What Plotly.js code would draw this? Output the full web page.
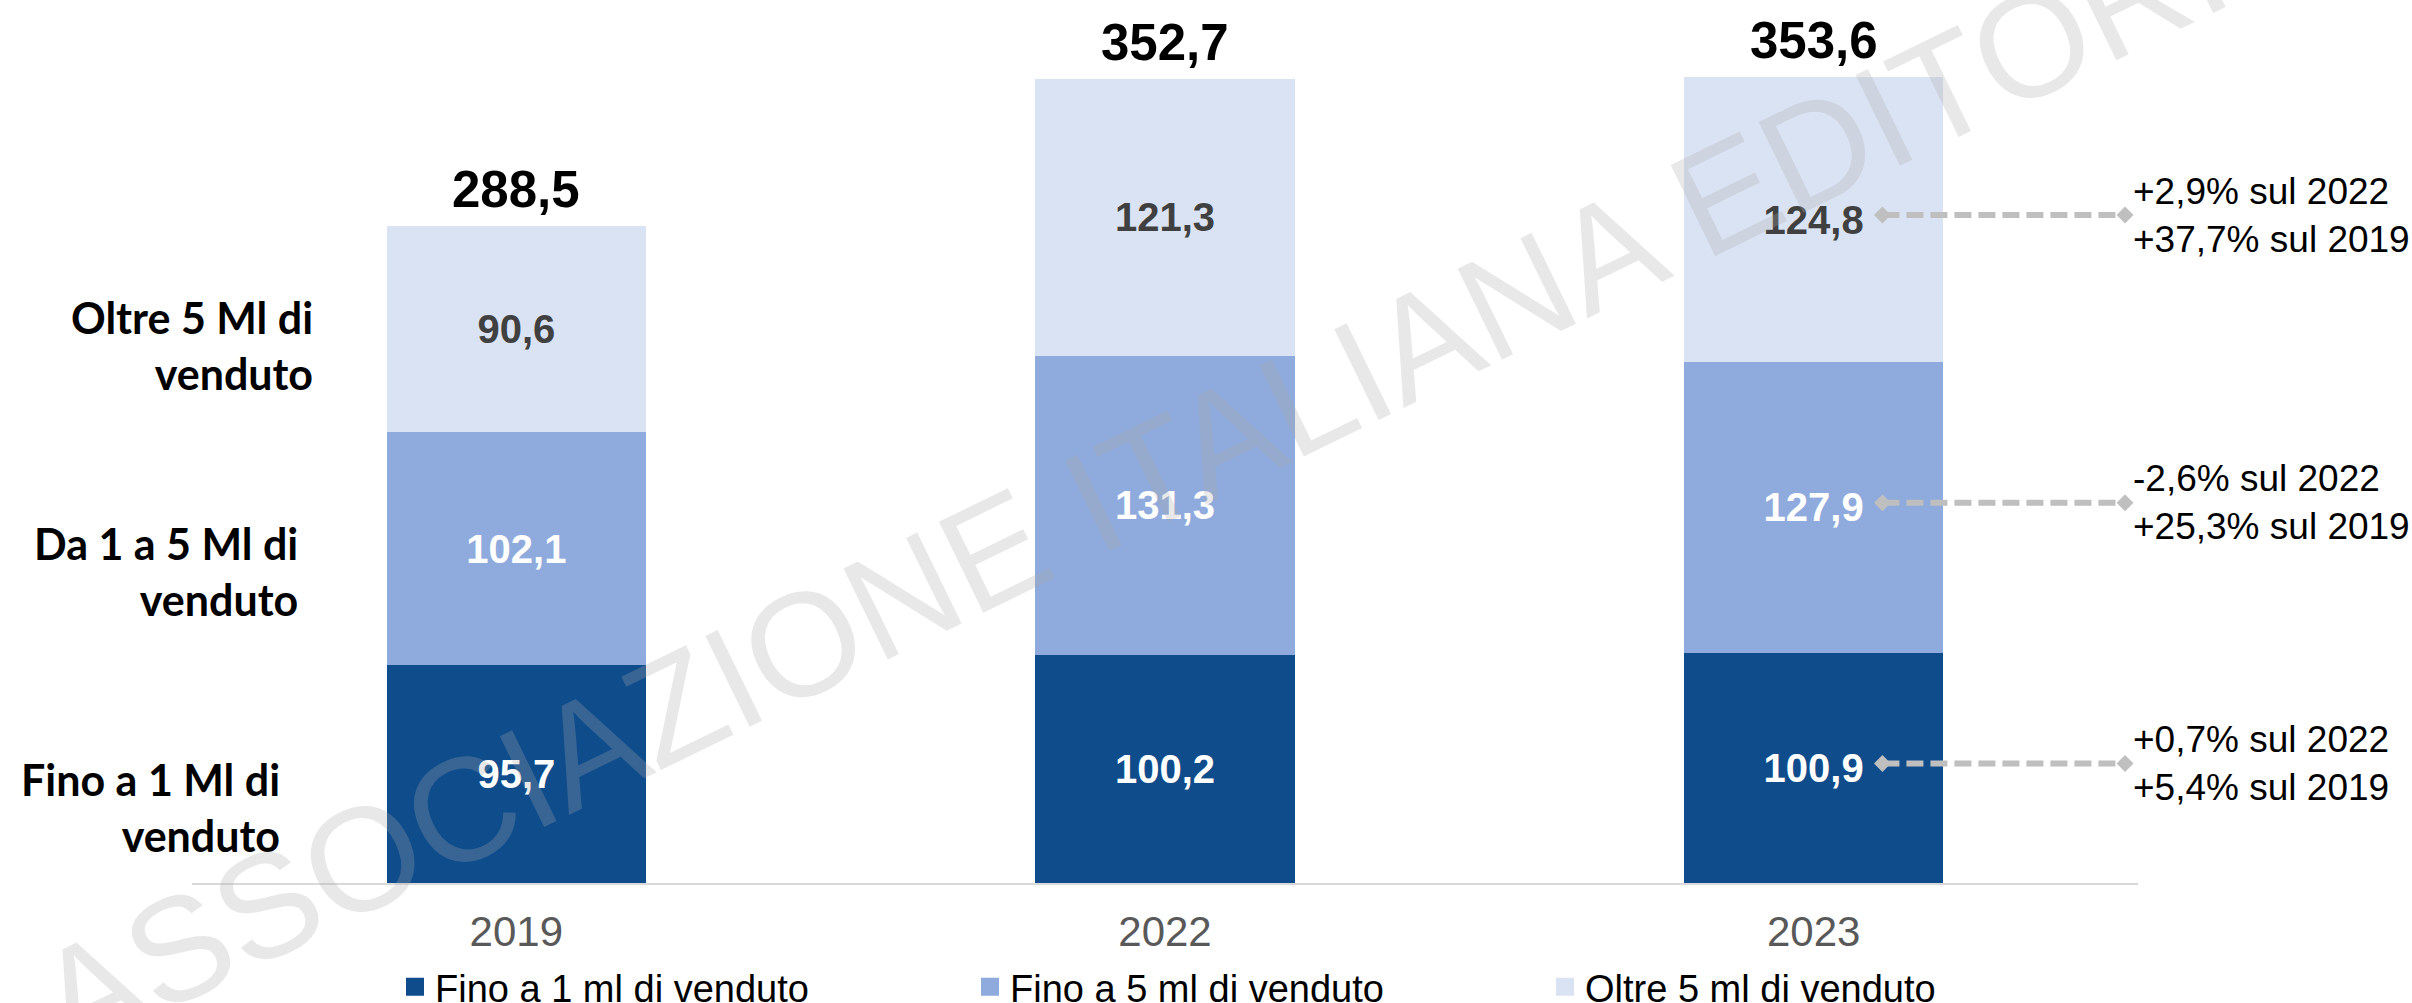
<!DOCTYPE html>
<html><head><meta charset="utf-8">
<script src="https://cdn.plot.ly/plotly-3.0.1.min.js"></script>
<style>html,body{margin:0;padding:0;background:#fff;overflow:hidden}</style>
</head><body><div id="chart" style="width:2412px;height:1003px"></div>
<script>
// ---- data ----
const years = ['2019', '2022', '2023'];
const seriesNames = ['Fino a 1 ml di venduto', 'Fino a 5 ml di venduto', 'Oltre 5 ml di venduto'];
const upTo1 = [95.7, 100.2, 100.9];
const from1to5 = [102.1, 131.3, 127.9];
const over5 = [90.6, 121.3, 124.8];
const totals = [288.5, 352.7, 353.6];
const rowLabels = ['Fino a 1 Ml di<br>venduto', 'Da 1 a 5 Ml di<br>venduto', 'Oltre 5 Ml di<br>venduto'];
// changes of the 2023 value, in order: fino a 1, da 1 a 5, oltre 5
const change2022 = [0.7, -2.6, 2.9];
const change2019 = [5.4, 25.3, 37.7];

// ---- helpers ----
const FONT = 'Liberation Sans, Arial, sans-serif';
const fmt = v => v.toFixed(1).replace('.', ',');
const fmtPct = v => (v >= 0 ? '+' : '-') + Math.abs(v).toFixed(1).replace('.', ',') + '%';
const xs = years.map((_, i) => i);
const series = [upTo1, from1to5, over5];
const colors = ['#0e4c8c', '#8faadc', '#dae3f3'];
const textColors = ['#ffffff', '#ffffff', '#404040'];

const traces = series.map((vals, k) => ({
  type: 'bar', x: xs, y: vals, name: seriesNames[k], width: 0.4,
  marker: {color: colors[k], line: {width: 0}},
  texttemplate: '%{y:.1f}', textposition: 'inside', insidetextanchor: 'middle',
  textangle: 0, constraintext: 'none',
  textfont: {family: FONT, size: 40, color: textColors[k], weight: 'bold'},
  hoverinfo: 'skip'
}));

// arrows on the last bar, one per segment
const last = years.length - 1;
const annotations = [];
let base = 0;
series.forEach((vals, k) => {
  const v = vals[last];
  const yMid = base + v / 2 + 2;
  traces.push({
    type: 'scatter', mode: 'lines+markers', showlegend: false, hoverinfo: 'skip',
    x: [last + 0.106, last + 0.48], y: [yMid, yMid], cliponaxis: false,
    line: {color: '#bfbfbf', width: 6, dash: '17px,7px'},
    marker: {symbol: 'diamond', size: 13, color: '#bfbfbf'}
  });
  annotations.push({
    x: last + 0.48, y: yMid, xref: 'x', yref: 'y', xanchor: 'left', yanchor: 'middle',
    xshift: 6, showarrow: false, align: 'left',
    text: fmtPct(change2022[k]) + ' sul 2022<br>' + fmtPct(change2019[k]) + ' sul 2019',
    font: {family: FONT, size: 37, color: '#000000'}
  });
  base += v;
});

// totals above bars
totals.forEach((t, i) => {
  const top = upTo1[i] + from1to5[i] + over5[i];
  annotations.push({
    x: i, y: top, xref: 'x', yref: 'y', xanchor: 'center', yanchor: 'bottom',
    yshift: 6, showarrow: false, text: fmt(t),
    font: {family: FONT, size: 51, color: '#000000', weight: 'bold'}
  });
});

// row labels on the left (paper positions)
const rowPos = [[282, 807], [300, 571], [315, 346]];
const L = 192, R = 274, T = 20, B = 120, W = 2412, H = 1003;
const pw = W - L - R, ph = H - T - B;
rowLabels.forEach((txt, k) => {
  annotations.push({
    x: (rowPos[k][0] - L) / pw, y: (H - B - rowPos[k][1]) / ph,
    xref: 'paper', yref: 'paper', xanchor: 'right', yanchor: 'middle', align: 'right',
    showarrow: false, text: txt,
    font: {family: 'Lato, Liberation Sans, sans-serif', size: 43, color: '#000000', weight: 'bold'}
  });
});

// watermark
annotations.push({
  x: (1131 - L) / pw, y: (H - B - 484) / ph, xref: 'paper', yref: 'paper',
  xanchor: 'center', yanchor: 'middle', showarrow: false, textangle: -26,
  text: 'ASSOCIAZIONE ITALIANA EDITORI',
  font: {family: FONT, size: 147, color: 'rgba(170,170,170,0.27)'}
});

const layout = {
  width: W, height: H,
  margin: {l: L, r: R, t: T, b: B, autoexpand: false},
  paper_bgcolor: '#ffffff', plot_bgcolor: '#ffffff',
  separators: ',.',
  barmode: 'stack',
  showlegend: true,
  legend: {
    orientation: 'h', x: (395 - L) / pw, xanchor: 'left', y: -(987 - (H - B)) / ph, yanchor: 'middle',
    traceorder: 'normal', entrywidth: 530, entrywidthmode: 'pixels',
    font: {family: FONT, size: 38, color: '#000000'}, bgcolor: 'rgba(0,0,0,0)'
  },
  xaxis: {
    type: 'linear', range: [-0.5, years.length - 0.5], tickvals: xs, ticktext: years,
    showgrid: false, zeroline: false, showline: true, linecolor: '#d9d9d9', linewidth: 2,
    ticks: '', automargin: false, fixedrange: true, ticklabelstandoff: 11,
    tickfont: {family: FONT, size: 42, color: '#595959'}
  },
  yaxis: {
    range: [0, 378.8], visible: false, showgrid: false, zeroline: false, fixedrange: true
  },
  annotations: annotations
};

Plotly.newPlot('chart', traces, layout, {displayModeBar: false, staticPlot: true}).then(() => {
  // enlarge the square legend keys to match the original
  document.querySelectorAll('#chart .legend .legendpoints path').forEach(p => {
    if ((p.getAttribute('d') || '').indexOf('M6,6H-6V-6H6Z') === 0) p.setAttribute('d', 'M9,9H-9V-9H9Z');
  });
});
</script>
</body></html>
